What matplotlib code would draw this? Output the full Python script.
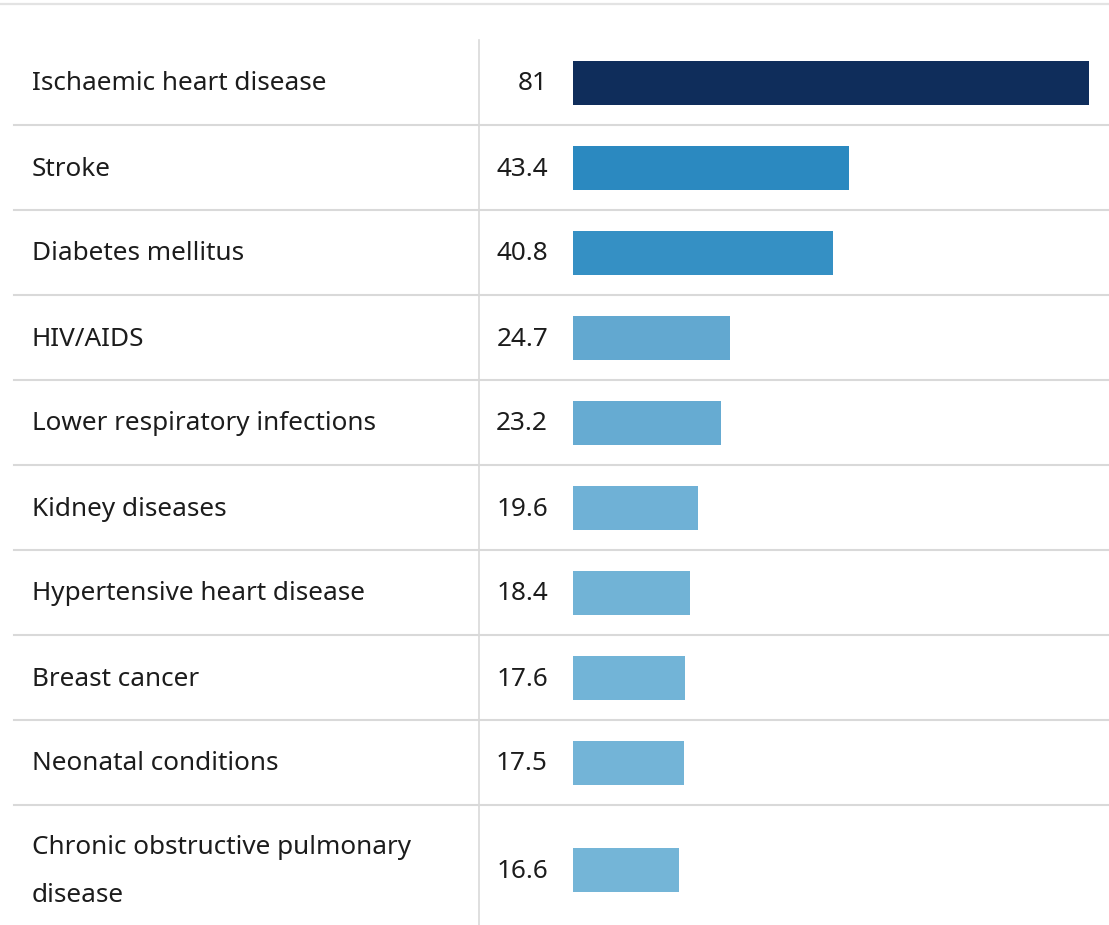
import matplotlib.pyplot as plt

causes = [
    "Ischaemic heart disease",
    "Stroke",
    "Diabetes mellitus",
    "HIV/AIDS",
    "Lower respiratory infections",
    "Kidney diseases",
    "Hypertensive heart disease",
    "Breast cancer",
    "Neonatal conditions",
    "Chronic obstructive pulmonary\ndisease",
]
values = [81, 43.4, 40.8, 24.7, 23.2, 19.6, 18.4, 17.6, 17.5, 16.6]
labels = ["81", "43.4", "40.8", "24.7", "23.2", "19.6", "18.4", "17.6", "17.5", "16.6"]
colors = [
    "#0f2d5b", "#2b89c0", "#3590c4", "#62a8d0", "#66abd2",
    "#6fb1d6", "#71b3d6", "#72b4d7", "#73b4d7", "#74b5d7",
]

plt.rcParams["font.family"] = ["Noto Sans", "DejaVu Sans"]

W, H = 1109, 925
fig = plt.figure(figsize=(W / 100, H / 100), dpi=100)

# layout axes in pixel units
ax = fig.add_axes([0, 0, 1, 1])
ax.set_xlim(0, W)
ax.set_ylim(H, 0)
ax.axis("off")

# bar axes: same pixel rows, value scale on x
bar_left = 573
px_per_unit = 6.37
bx = fig.add_axes([bar_left / W, 0, (W - bar_left) / W, 1])
bx.set_xlim(0, (W - bar_left) / px_per_unit)
bx.set_ylim(H, 0)
bx.axis("off")

row_top = 40
row_h = 85
fs = 18.8
line_color = "#d9d9d9"
text_color = "#1c1c1c"

ax.plot([0, W], [4, 4], color="#e3e3e3", lw=1.6)
ax.plot([479, 479], [row_top, H], color=line_color, lw=1.2)

y = row_top
for i, (name, val, lab, col) in enumerate(zip(causes, values, labels, colors)):
    n_lines = name.count("\n") + 1
    h = row_h if n_lines == 1 else row_h + 45
    yc = y + h / 2
    ax.text(32, yc + 1.5, name, ha="left", va="center", fontsize=fs,
            color=text_color, linespacing=2.2)
    ax.text(548, yc + 1.5, lab, ha="right", va="center", fontsize=fs,
            color=text_color)
    bx.barh(yc, val, height=44, left=0, color=col)
    y += h
    if i < len(causes) - 1:
        ax.plot([14, W], [y, y], color=line_color, lw=1.5)

fig.savefig("out.png", dpi=100)
